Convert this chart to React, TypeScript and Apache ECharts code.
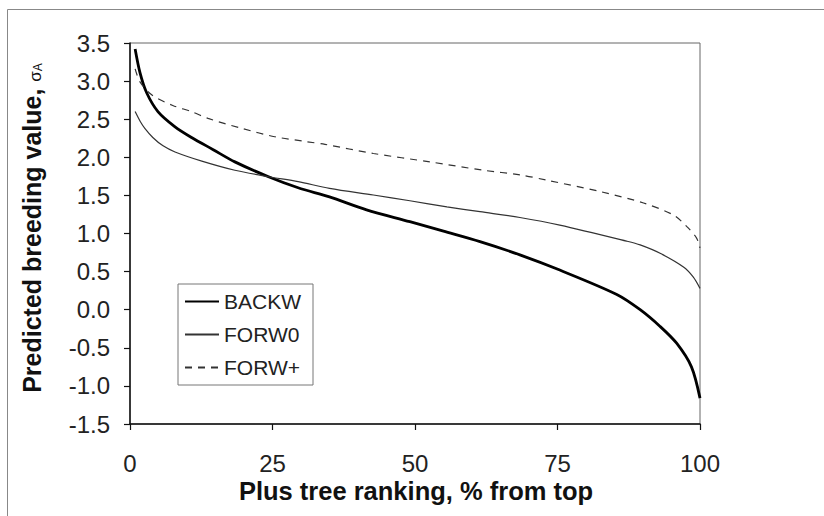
import React, { useEffect, useRef } from "react";
import * as echarts from "echarts";

const backwX = [0.9, 1.75, 2.9, 4.9, 7.9, 10.8, 14.6, 18.4, 24.3, 29.5, 35, 41.5, 49.1, 55, 61.4, 68.4, 75.4, 85.4, 89.5, 93, 95.9, 98.5, 100];
const backwY = [3.42, 3.11, 2.85, 2.6, 2.4, 2.26, 2.1, 1.94, 1.745, 1.6, 1.48, 1.31, 1.155, 1.03, 0.893, 0.72, 0.52, 0.2, 0.0, -0.22, -0.44, -0.75, -1.16];

const forw0X = [0.9, 1.8, 2.6, 4.0, 5.8, 7.9, 12.6, 18.4, 24.3, 29.5, 35, 42.7, 49.1, 55.6, 61.4, 68.4, 75.4, 87.1, 89.5, 93, 97.1, 98.8, 100];
const forw0Y = [2.6, 2.47, 2.38, 2.26, 2.15, 2.07, 1.95, 1.83, 1.745, 1.68, 1.593, 1.505, 1.43, 1.35, 1.286, 1.21, 1.11, 0.9, 0.85, 0.74, 0.56, 0.43, 0.28];

const forwPX = [0.9, 1.75, 3.8, 7.5, 10.8, 13.7, 19.6, 25.4, 31, 34.2, 42.7, 52.6, 62, 68.4, 73.1, 82.5, 90.1, 95.4, 97.7, 99.4, 100];
const forwPY = [3.16, 2.99, 2.82, 2.68, 2.6, 2.51, 2.38, 2.27, 2.205, 2.17, 2.05, 1.94, 1.83, 1.77, 1.7, 1.55, 1.4, 1.24, 1.09, 0.94, 0.81];

const seriesNames = ["BACKW", "FORW0", "FORW+"];
const xTicks = [0, 25, 50, 75, 100];
const yMin = -1.5;
const yMax = 3.5;
const yStep = 0.5;

const zip = (xs: number[], ys: number[]) => xs.map((x, i) => [x, ys[i]]);

export default function App() {
  const ref = useRef<HTMLDivElement>(null);
  useEffect(() => {
    if (!ref.current) return;
    const chart = echarts.init(ref.current, null, { renderer: "svg" });
    const font = "Arial, 'Liberation Sans', Helvetica, sans-serif";
    chart.setOption({
      animation: false,
      backgroundColor: "#fff",
      textStyle: { fontFamily: font },
      grid: {
        left: 130,
        right: 124,
        top: 43,
        bottom: 92,
        show: true,
        borderColor: "#666",
        borderWidth: 1,
        containLabel: false,
      },
      xAxis: {
        type: "value",
        min: xTicks[0],
        max: xTicks[xTicks.length - 1],
        interval: 25,
        axisLine: { show: true, onZero: false, lineStyle: { color: "#111", width: 1.5 } },
        axisTick: { show: true, inside: false, length: 6, lineStyle: { color: "#111", width: 1.2 } },
        axisLabel: { color: "#222", fontSize: 24, margin: 28, fontFamily: font, lineHeight: 22 },
        splitLine: { show: false },
      },
      yAxis: {
        type: "value",
        min: yMin,
        max: yMax,
        interval: yStep,
        axisLine: { show: true, onZero: false, lineStyle: { color: "#111", width: 1.5 } },
        axisTick: { show: true, inside: false, length: 6, lineStyle: { color: "#111", width: 1.2 } },
        axisLabel: {
          color: "#222",
          fontSize: 24,
          margin: 20,
          fontFamily: font,
          formatter: (v: number) => v.toFixed(1),
        },
        splitLine: { show: false },
      },
      legend: {
        orient: "vertical",
        left: 178,
        top: 284,
        padding: [7, 12, 7, 6],
        itemGap: 12,
        itemWidth: 34,
        itemHeight: 21,
        borderColor: "#777",
        borderWidth: 1,
        backgroundColor: "#fff",
        data: seriesNames,
        itemStyle: { opacity: 0 },
        textStyle: { color: "#222", fontSize: 21, fontFamily: font },
      },
      series: [
        {
          name: seriesNames[0],
          type: "line",
          data: zip(backwX, backwY),
          symbol: "none",
          smooth: 0.3,
          lineStyle: { color: "#000", width: 2.8 },
          itemStyle: { color: "#000" },
        },
        {
          name: seriesNames[1],
          type: "line",
          data: zip(forw0X, forw0Y),
          symbol: "none",
          smooth: 0.3,
          lineStyle: { color: "#333", width: 1.2 },
          itemStyle: { color: "#333" },
        },
        {
          name: seriesNames[2],
          type: "line",
          data: zip(forwPX, forwPY),
          symbol: "none",
          smooth: 0.3,
          lineStyle: { color: "#333", width: 1.2, type: [7, 6] },
          itemStyle: { color: "#333" },
        },
      ],
      graphic: [
        {
          type: "rect",
          shape: { x: 7.5, y: 9.5, width: 900, height: 600 },
          style: { fill: "none", stroke: "#888", lineWidth: 1 },
          silent: true,
          z: -1,
        },
        {
          type: "text",
          x: 30,
          y: 228,
          rotation: Math.PI / 2,
          style: {
            text: "{b|Predicted breeding value, }{s|σ}{a|A}",
            align: "center",
            verticalAlign: "middle",
            rich: {
              b: { fontSize: 25, fontWeight: "bold", fill: "#111", fontFamily: font, verticalAlign: "bottom", lineHeight: 28 },
              s: { fontSize: 17, fill: "#111", fontFamily: font, verticalAlign: "bottom", lineHeight: 28 },
              a: { fontSize: 12, fill: "#111", fontFamily: font, verticalAlign: "bottom", lineHeight: 26 },
            },
          },
        },
        {
          type: "text",
          x: 416,
          y: 491,
          style: {
            text: "Plus tree ranking, % from top",
            align: "center",
            verticalAlign: "middle",
            fontSize: 25.5,
            fontWeight: "bold",
            fill: "#111",
            fontFamily: font,
          },
        },
      ],
    });
    return () => chart.dispose();
  }, []);
  return (
    <div
      ref={ref}
      style={{ position: "fixed", left: 0, top: 0, width: 824, height: 516 }}
    />
  );
}
